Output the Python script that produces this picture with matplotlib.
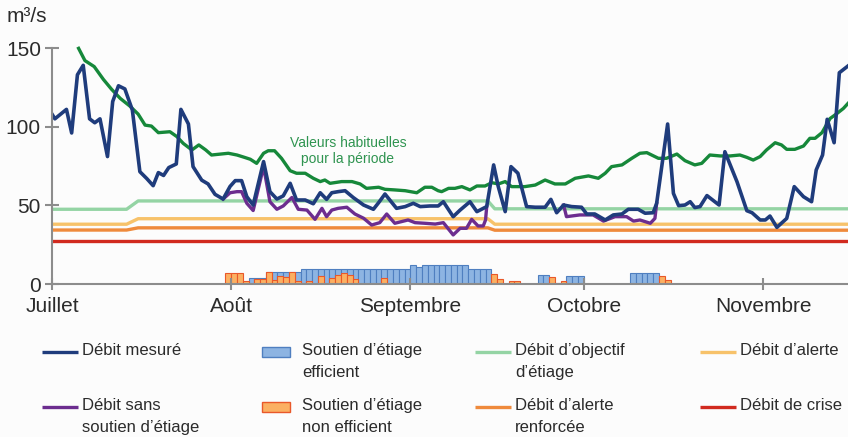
import matplotlib.pyplot as plt
from matplotlib.patches import Rectangle

plt.rcParams['font.family'] = ['Liberation Sans', 'DejaVu Sans']

# jours comptés depuis le 1er juillet
month_days = [0, 31, 62, 92, 123]
month_labels = ['Juillet', 'Août', 'Septembre', 'Octobre', 'Novembre']

# Débit mesuré (m3/s)
measured_days = [0, 0.5, 2.5, 3.4, 4.4, 5.4, 6.5, 7.4, 8.3, 9.6, 10.5, 11.5, 12.6, 13.9,
                 15.2, 16.4, 17.5, 18.4, 19.3, 20.2, 21.5, 22.3, 23.6, 24.4, 25.9, 27.0,
                 28.2, 29.6, 30.8, 31.7, 32.8, 33.7, 34.8, 36.6, 37.7, 38.9, 40.0, 41.2,
                 42.3, 43.8, 45.2, 46.4, 47.5, 48.4, 49.5, 50.7, 52.1, 53.9, 55.6, 56.5,
                 57.6, 59.6, 61.1, 62.5, 63.7, 65.4, 66.8, 67.7, 69.4, 70.6, 72.3, 73.5,
                 75.2, 76.4, 77.2, 78.4, 79.4, 80.6, 82.1, 83.6, 85.3, 86.3, 87.3, 88.5,
                 89.9, 91.6, 92.5, 93.9, 95.7, 97.1, 98.6, 99.7, 101.4, 102.6, 104.0, 104.6,
                 106.5, 107.5, 108.4, 109.5, 110.4, 111.2, 112.1, 113.3, 115.4, 116.4, 118.5,
                 120.2, 121.1, 122.5, 123.4, 124.2, 125.4, 127.1, 128.4, 130.0, 131.4, 132.2,
                 133.3, 134.1, 135.3, 136.2, 137.7]
measured_flow = [108, 105, 111, 96, 133, 139, 105, 102.5, 105, 81, 116, 126, 124, 110.6,
                 71.4, 67, 62.5, 70.8, 69, 74, 76.3, 111, 101.7, 74.6, 66, 63.6,
                 57, 54, 62, 65.7, 65.7, 55.5, 50.2, 77.8, 58.7, 54, 56, 64,
                 53.4, 53.4, 51, 58, 53.8, 58, 58.7, 59.3, 55, 50.2, 47.5, 51.7,
                 57.2, 48.1, 49.2, 51.3, 49.2, 49.6, 49.6, 52.3, 42.8, 47, 52.3, 46,
                 49.2, 75.7, 61.9, 46, 74.6, 70.4, 49.2, 48.8, 48.8, 53.8, 45.3, 50.2,
                 49.2, 48.8, 44.5, 44.5, 40.7, 43.9, 44.5, 47.5, 47.5, 45, 45.3, 51.3,
                 101.7, 57.6, 49.8, 50.2, 52.3, 48.6, 49.2, 56.2, 50.2, 84.1, 65,
                 46.6, 45.3, 40.7, 40.7, 43.2, 36, 41.7, 61.9, 55.5, 52.3, 72.5,
                 82, 104.7, 89.8, 134.3, 138.6]

# Débit sans soutien d'étiage (deux tronçons où il s'écarte du débit mesuré)
natural_days_1 = [29.6, 30.8, 32.0, 32.8, 33.7, 34.8, 36.6, 37.7, 38.9, 40.0, 41.5, 42.6,
                  44.1, 45.5, 46.7, 47.5, 48.4, 49.5, 51.0, 52.4, 53.9, 55.3, 56.7, 57.9,
                  59.3, 61.6, 62.8, 64.5, 66.3, 67.7, 69.4, 70.6, 71.7, 72.6, 73.7, 74.6,
                  75.0, 75.2]
natural_flow_1 = [54, 58, 58.7, 58.7, 51.3, 46.7, 74.6, 52.3, 47.5, 49.6, 55, 47.5,
                  47, 41.1, 48.1, 42.8, 47, 48.1, 48.8, 44.5, 41.8, 37.5, 39, 44.5,
                  38.6, 40.7, 39, 38.6, 38.1, 39, 31.2, 35.4, 35.4, 41.1, 36.9, 36.9,
                  40.7, 49.2]
natural_days_2 = [88.5, 89.0, 91.3, 93.6, 95.4, 97.4, 99.4, 100.6, 101.7, 103.5, 104.3, 104.6]
natural_flow_2 = [50.2, 42.8, 43.9, 43.9, 40, 42.8, 42.8, 40, 40.7, 38.6, 41.7, 51.3]

# Valeurs habituelles pour la période
usual_days = [4.6, 5.7, 7.3, 8.9, 10.3, 11.8, 13.5, 14.9, 16.1, 17.2, 18.4, 20.4, 21.6,
              22.7, 24.2, 25.4, 26.6, 27.6, 30.5, 32.0, 33.3, 34.3, 35.4, 36.6, 37.4,
              38.5, 39.7, 41.2, 42.3, 43.8, 45.2, 46.4, 47.2, 48.1, 50.1, 51.9, 53.3,
              54.4, 56.5, 57.6, 59.3, 61.1, 63.1, 64.5, 65.7, 66.8, 67.4, 68.6, 69.7,
              70.9, 72.3, 73.5, 74.9, 76.1, 77.2, 78.4, 79.5, 81.8, 83.6, 85.3, 87.0,
              88.8, 90.5, 92.8, 94.5, 95.7, 96.8, 98.6, 100.3, 101.7, 102.9, 104.9,
              106.3, 108.1, 109.5, 111.2, 112.4, 113.8, 115.6, 117.3, 119.0, 120.2,
              121.3, 122.5, 123.6, 125.1, 126.2, 127.1, 128.5, 130.0, 131.1, 132.0,
              133.2, 134.6, 135.8, 136.9, 137.7]
usual_flow = [149.8, 142, 138.2, 130, 123.8, 118, 113, 108, 101, 100.4, 96.2, 96.8, 93.7,
              89.4, 85.2, 88.4, 85.2, 82, 83.1, 82, 80.5, 79.3, 76.7, 83.1, 84.7,
              84.7, 79.9, 72, 70.4, 70.4, 67.2, 65.1, 66.1, 64, 65.1, 65.1, 63.6,
              60.8, 61.5, 60.2, 59.8, 59.3, 58, 61.5, 61.5, 59.3, 58.7, 60.8, 60.8,
              61.9, 59.8, 62.3, 62.3, 64.4, 63.6, 65.1, 61.9, 61.9, 62.9, 66.1, 63.6,
              63.6, 67.2, 68.7, 67.2, 70.4, 74.6, 75.7, 79.9, 83.1, 83.5, 79.9,
              79.9, 82.6, 78.4, 75.7, 76.7, 82, 81.4, 81.4, 82, 80.5,
              78.8, 81, 85.2, 89.8, 88.4, 85.6, 85.6, 87.7, 92.6, 92.6,
              96.2, 105.2, 108.4, 111.6, 114.8]

# Seuils réglementaires
threshold_days = [0, 12.9, 14.9, 75.4, 76.6, 137.7]
objective_flow = [47.5, 47.5, 52.8, 52.8, 47.8, 47.8]
alert_flow = [38, 38, 41.5, 41.5, 38, 38]
reinforced_flow = [34.3, 34.3, 35.7, 35.7, 34.2, 34.2]
crisis_flow = [27.3, 27.3, 27.3, 27.3, 27.3, 27.3]

# Soutien d'étiage journalier (m3/s), du 30e au 106e jour
support_days = list(range(30, 107))
efficient = ([0, 0, 0, 0, 3.6, 3.6, 3.6, 7.4, 7.4, 7.4, 7.4, 7.4, 7.4]
             + [9.3] * 19
             + [12.1, 10.6] + [12.1] * 8 + [9.3] * 4
             + [0] * 8
             + [6, 6, 0, 0, 0, 5.3, 5.3, 5.3]
             + [0] * 8
             + [6.8] * 5 + [0, 0])
non_efficient = ([7, 7, 7, 2.2, 0, 3.2, 3.2, 7.4, 2.5, 4.9, 4.7, 7.4, 2]
                 + [0, 2, 0, 5.3, 0, 3.8, 6, 7, 6, 3.2, 0, 0, 0, 0, 3.5, 0, 0, 0, 0]
                 + [0] * 14
                 + [6.2, 3.2, 0, 1.6, 1.6, 0, 0, 0]
                 + [0, 0, 4.7, 0.8, 2, 0, 0, 0]
                 + [0] * 8
                 + [0] * 5 + [5.3, 2.5])

c_measured = '#1f3c7c'
c_natural = '#6c2d8f'
c_usual = '#16883a'
c_objective = '#94d4a4'
c_alert = '#f7c26a'
c_reinforced = '#ef8a3c'
c_crisis = '#d12a1f'
c_eff, c_eff_edge = '#8db4e2', '#4f7fc0'
c_neff, c_neff_edge = '#fbb062', '#e9582a'
grey = '#8c8c8c'
txt = '#2b2b2b'

fig = plt.figure(figsize=(8.48, 4.37), dpi=100, facecolor='#fcfcfc')
ax = fig.add_axes([52 / 848, 153 / 437, 796 / 848, 251.7 / 437])
ax.set_facecolor('none')

lw = 2.4
ax.plot(threshold_days, crisis_flow, color=c_crisis, lw=lw)
ax.plot(threshold_days, reinforced_flow, color=c_reinforced, lw=lw)
ax.plot(threshold_days, alert_flow, color=c_alert, lw=lw)
ax.plot(threshold_days, objective_flow, color=c_objective, lw=lw)
ax.plot(usual_days, usual_flow, color=c_usual, lw=lw)
ax.plot(natural_days_1, natural_flow_1, color=c_natural, lw=lw)
ax.plot(natural_days_2, natural_flow_2, color=c_natural, lw=lw)
ax.plot(measured_days, measured_flow, color=c_measured, lw=2.6)

eff = [(d, h) for d, h in zip(support_days, efficient) if h > 0]
neff = [(d, h) for d, h in zip(support_days, non_efficient) if h > 0]
ax.bar([d for d, _ in eff], [h for _, h in eff], width=1, align='edge',
       color=c_eff, edgecolor=c_eff_edge, linewidth=0.8)
ax.bar([d for d, _ in neff], [h for _, h in neff], width=1, align='edge',
       color=c_neff, edgecolor=c_neff_edge, linewidth=0.8)

ax.text(51.2, 84.7, 'Valeurs habituelles\npour la période', color='#2f9450',
        fontsize=10, ha='center', va='center', linespacing=1.15)

ax.set_xlim(0, 137.7)
ax.set_ylim(0, 160)
ax.set_xticks(month_days)
ax.set_xticklabels(month_labels)
ax.set_yticks([0, 50, 100, 150])
for s in ['top', 'right']:
    ax.spines[s].set_visible(False)
for s in ['left', 'bottom']:
    ax.spines[s].set_color(grey)
    ax.spines[s].set_linewidth(1.5)
ax.spines['left'].set_bounds(0, 150)
ax.tick_params(axis='y', direction='inout', length=10, width=1.5, color=grey,
               labelsize=15, labelcolor=txt, pad=3)
ax.tick_params(axis='x', direction='inout', length=8, width=1.5, color=grey,
               labelsize=15, labelcolor=txt, pad=5)

fig.text(7 / 848, 1 - 17 / 437, 'm³/s', fontsize=15, color=txt, va='center', ha='left')

# légende dessinée à la main, en pixels
lg = fig.add_axes([0, 0, 1, 1])
lg.set_xlim(0, 848)
lg.set_ylim(437, 0)
lg.axis('off')
lg.set_facecolor('none')

entries = [
    ('line', c_measured, None, 42, 352, 'Débit mesuré'),
    ('line', c_natural, None, 42, 407, 'Débit sans\nsoutien d\u2019étiage'),
    ('patch', c_eff, c_eff_edge, 262, 352, 'Soutien d\u2019étiage\nefficient'),
    ('patch', c_neff, c_neff_edge, 262, 407, 'Soutien d\u2019étiage\nnon efficient'),
    ('line', c_objective, None, 475, 352, 'Débit d\u2019objectif\nd\u2019étiage'),
    ('line', c_reinforced, None, 475, 407, 'Débit d\u2019alerte\nrenforcée'),
    ('line', c_alert, None, 700, 352, 'Débit d\u2019alerte'),
    ('line', c_crisis, None, 700, 407, 'Débit de crise'),
]
for kind, col, edge, x0, y0, label in entries:
    if kind == 'line':
        lg.plot([x0, x0 + 36], [y0, y0], color=col, lw=lw, solid_capstyle='butt')
    else:
        lg.add_patch(Rectangle((x0, y0 - 5), 28, 10, facecolor=col, edgecolor=edge, lw=1))
    lg.text(x0 + 40, y0 - 9, label, fontsize=12, color=txt, va='top', ha='left',
            linespacing=1.6)

fig.savefig('out.png', dpi=100, facecolor=fig.get_facecolor())
